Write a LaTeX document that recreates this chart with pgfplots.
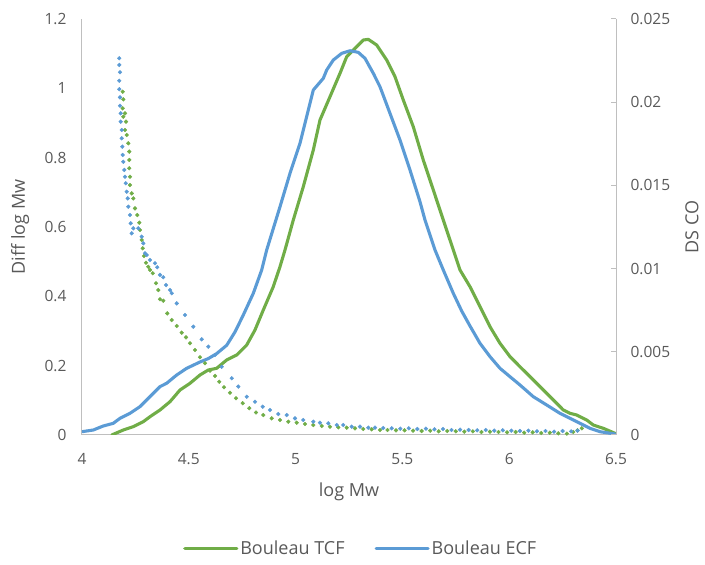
\documentclass[border=0pt]{standalone}
\usepackage{pgfplots}
\pgfplotsset{compat=1.18}
\usepackage{fontspec}
\setmainfont{Open Sans}
\definecolor{cgreen}{HTML}{70AD47}
\definecolor{cblue}{HTML}{5B9BD5}
\definecolor{ctext}{HTML}{595959}
\definecolor{caxis}{HTML}{BFBFBF}
\newcommand{\fs}{\fontsize{15.5}{18}\selectfont}
\newcommand{\fl}{\fontsize{18}{21}\selectfont}

\begin{document}
\begin{tikzpicture}
\path[use as bounding box] (-82pt,-130pt) rectangle (623pt,435pt);
\pgfplotsset{
  base/.style={
    scale only axis, width=534pt, height=416pt,
    at={(0pt,0pt)}, anchor=south west,
    xmin=4, xmax=6.5,
    axis line style={caxis, line width=1pt},
    tick label style={font=\fs, text=ctext},
    label style={font=\fl, text=ctext},
    scaled ticks=false,
    /pgf/number format/assume math mode=true,
    /pgf/number format/fixed,
    /pgf/number format/precision=3,
  },
  solidline/.style={line width=3.1pt, line join=round, line cap=round},
  dotline/.style={only marks, mark=*, mark size=1.9pt},
}
\begin{axis}[base,
  ymin=0, ymax=1.2,
  ytick={0,0.2,0.4,0.6,0.8,1,1.2},
  xtick={4,4.5,5,5.5,6,6.5},
  axis x line*=bottom, axis y line*=left,
  major tick length=0pt,
  xticklabel style={yshift=-15pt},
  yticklabel style={xshift=-12pt},
  xlabel={log Mw}, ylabel={Diff log Mw},
  xlabel style={at={(axis description cs:0.5,-0.137)}, anchor=center},
  ylabel style={at={(axis description cs:-0.116,0.5)}, anchor=center},
  legend columns=2,
  legend style={at={(axis description cs:0.522,-0.272)}, anchor=center, draw=none, fill=none,
    font=\fl, text=ctext, /tikz/every even column/.append style={column sep=28pt},
    /tikz/every odd column/.append style={column sep=0pt}},
  legend image code/.code={\draw[#1] (0pt,0pt) -- (52pt,0pt);},
]
\addplot[cgreen, solidline] coordinates {
(4.1390,0.0000) (4.1934,0.0144) (4.2402,0.0240) (4.2870,0.0384) (4.3184,0.0528)
(4.3652,0.0721) (4.4120,0.0961) (4.4588,0.1298) (4.5056,0.1491) (4.5524,0.1731)
(4.5913,0.1875) (4.6306,0.1924) (4.6774,0.2164) (4.7243,0.2308) (4.7711,0.2596)
(4.8099,0.3029) (4.8488,0.3606) (4.8956,0.4279) (4.9270,0.4856) (4.9504,0.5337)
(4.9892,0.6201) (5.0360,0.7162) (5.0829,0.8220) (5.1142,0.9086) (5.1610,0.9758)
(5.2079,1.0433) (5.2392,1.0912) (5.2935,1.1249) (5.3169,1.1393) (5.3404,1.1413)
(5.3797,1.1249) (5.4265,1.0816) (5.4654,1.0335) (5.5042,0.9663) (5.5510,0.8893)
(5.5978,0.7932) (5.6447,0.7067) (5.6915,0.6201) (5.7383,0.5337) (5.7697,0.4760)
(5.8165,0.4278) (5.8633,0.3701) (5.9101,0.3124) (5.9569,0.2645) (6.0037,0.2260)
(6.0506,0.1970) (6.1129,0.1587) (6.1756,0.1203) (6.2533,0.0721) (6.2846,0.0626)
(6.3160,0.0577) (6.3628,0.0433) (6.3937,0.0288) (6.4405,0.0193) (6.4953,0.0049)
};
\addlegendentry{Bouleau TCF}
\addplot[cblue, solidline] coordinates {
(4.0000,0.0095) (4.0529,0.0144) (4.0997,0.0260) (4.1465,0.0337) (4.1779,0.0481)
(4.2247,0.0626) (4.2715,0.0818) (4.3184,0.1107) (4.3652,0.1395) (4.3965,0.1493)
(4.4434,0.1731) (4.4902,0.1924) (4.5524,0.2106) (4.5913,0.2204) (4.6306,0.2348)
(4.6774,0.2588) (4.7163,0.2972) (4.7552,0.3462) (4.8020,0.4087) (4.8413,0.4760)
(4.8647,0.5337) (4.9270,0.6585) (4.9738,0.7548) (5.0206,0.8414) (5.0674,0.9567)
(5.0829,0.9951) (5.1297,1.0288) (5.1456,1.0528) (5.1765,1.0816) (5.2158,1.1009)
(5.2547,1.1084) (5.2935,1.1038) (5.3249,1.0865) (5.3638,1.0433) (5.3951,1.0046)
(5.4419,0.9279) (5.4888,0.8509) (5.5356,0.7643) (5.5824,0.6729) (5.6058,0.6201)
(5.6526,0.5337) (5.6915,0.4760) (5.7383,0.4087) (5.7776,0.3577) (5.8165,0.3144)
(5.8633,0.2645) (5.9101,0.2260) (5.9569,0.1924) (6.0037,0.1682) (6.0506,0.1442)
(6.1129,0.1105) (6.1756,0.0865) (6.2378,0.0625) (6.2846,0.0482) (6.3315,0.0338)
(6.3783,0.0193) (6.4251,0.0095) (6.4953,0.0029)
};
\addlegendentry{Bouleau ECF}
\end{axis}

\begin{axis}[base,
  ymin=0, ymax=0.025,
  ytick={0,0.005,0.01,0.015,0.02,0.025},
  axis x line=none, axis y line*=right,
  tick align=inside, major tick length=5pt,
  major tick style={caxis, line width=1pt},
  yticklabel style={xshift=11pt},
  ylabel={DS CO},
  ylabel style={at={(axis description cs:1.142,0.5)}, anchor=center},
]
\addplot[cgreen, dotline] coordinates {
(4.1905,0.02063) (4.1934,0.02017) (4.1905,0.01963) (4.1934,0.01913) (4.2013,0.01933)
(4.2060,0.01883) (4.2013,0.01833) (4.2093,0.01803) (4.2168,0.01753) (4.2214,0.01703)
(4.2214,0.01653) (4.2214,0.01603) (4.2247,0.01552) (4.2247,0.01502) (4.2327,0.01452)
(4.2402,0.01422) (4.2481,0.01362) (4.2589,0.01322) (4.2683,0.01276) (4.2715,0.01232)
(4.2795,0.01172) (4.2842,0.01122) (4.2903,0.01076) (4.2996,0.01035) (4.3104,0.01011)
(4.3184,0.00992) (4.3310,0.00972) (4.3464,0.00912) (4.3572,0.00871) (4.3652,0.00816)
(4.3806,0.00807) (4.3993,0.00731) (4.4199,0.00691) (4.4434,0.00655) (4.4668,0.00615)
(4.4869,0.00587) (4.5056,0.00551) (4.5290,0.00511) (4.5524,0.00467) (4.5758,0.00431)
(4.5993,0.00387) (4.6227,0.00355) (4.6428,0.00320) (4.6648,0.00287) (4.6929,0.00254)
(4.7210,0.00221) (4.7523,0.00191) (4.7832,0.00161) (4.8146,0.00135) (4.8488,0.00120)
(4.8881,0.00100) (4.9270,0.00090) (4.9658,0.00080) (5.0051,0.00074) (5.0440,0.00066)
(5.0829,0.00060) (5.1222,0.00054) (5.1610,0.00050) (5.1999,0.00046) (5.2392,0.00044)
(5.2781,0.00040) (5.3169,0.00036) (5.3563,0.00034) (5.3951,0.00030) (5.4300,0.00030)
(5.4700,0.00028) (5.5100,0.00028) (5.5500,0.00026) (5.5900,0.00024) (5.6300,0.00026)
(5.6700,0.00022) (5.7100,0.00024) (5.7500,0.00022) (5.7900,0.00020) (5.8300,0.00022)
(5.8700,0.00018) (5.9100,0.00020) (5.9500,0.00018) (5.9900,0.00016) (6.0300,0.00018)
(6.0700,0.00014) (6.1100,0.00016) (6.1500,0.00012) (6.1900,0.00014) (6.2300,0.00010)
(6.2700,0.00008) (6.3000,0.00018) (6.3200,0.00028) (6.3400,0.00040)
};
\addplot[cblue, dotline] coordinates {
(4.1746,0.02264) (4.1746,0.02224) (4.1779,0.02180) (4.1746,0.02129) (4.1746,0.02078)
(4.1779,0.02029) (4.1779,0.01979) (4.1812,0.01933) (4.1812,0.01883) (4.1859,0.01833)
(4.1859,0.01783) (4.1887,0.01733) (4.1905,0.01683) (4.1934,0.01642) (4.1980,0.01593)
(4.2013,0.01552) (4.2046,0.01513) (4.2093,0.01462) (4.2140,0.01422) (4.2168,0.01372)
(4.2247,0.01322) (4.2280,0.01272) (4.2327,0.01212) (4.2402,0.01242) (4.2636,0.01242)
(4.2795,0.01192) (4.2870,0.01152) (4.2949,0.01092) (4.3029,0.01082) (4.3184,0.01052)
(4.3418,0.01032) (4.3525,0.01008) (4.3652,0.00962) (4.3806,0.00948) (4.3933,0.00901)
(4.4120,0.00871) (4.4199,0.00852) (4.4434,0.00791) (4.4822,0.00721) (4.5211,0.00651)
(4.5604,0.00575) (4.5913,0.00531) (4.6227,0.00481) (4.6540,0.00410) (4.7008,0.00341)
(4.7317,0.00291) (4.7711,0.00230) (4.8099,0.00200) (4.8460,0.00170) (4.8801,0.00150)
(4.9190,0.00126) (4.9583,0.00120) (4.9972,0.00100) (5.0360,0.00090) (5.0829,0.00080)
(5.1142,0.00074) (5.1531,0.00070) (5.1924,0.00060) (5.2233,0.00060) (5.2626,0.00050)
(5.3015,0.00050) (5.3404,0.00044) (5.3717,0.00044) (5.4100,0.00042) (5.4500,0.00040)
(5.4900,0.00038) (5.5300,0.00040) (5.5700,0.00036) (5.6100,0.00038) (5.6500,0.00034)
(5.6900,0.00036) (5.7300,0.00030) (5.7700,0.00032) (5.8100,0.00030) (5.8500,0.00028)
(5.8900,0.00030) (5.9300,0.00026) (5.9700,0.00028) (6.0100,0.00026) (6.0500,0.00024)
(6.0900,0.00026) (6.1300,0.00022) (6.1700,0.00024) (6.2100,0.00020) (6.2500,0.00024)
(6.2900,0.00022) (6.3200,0.00026)
};
\end{axis}
\end{tikzpicture}
\end{document}
